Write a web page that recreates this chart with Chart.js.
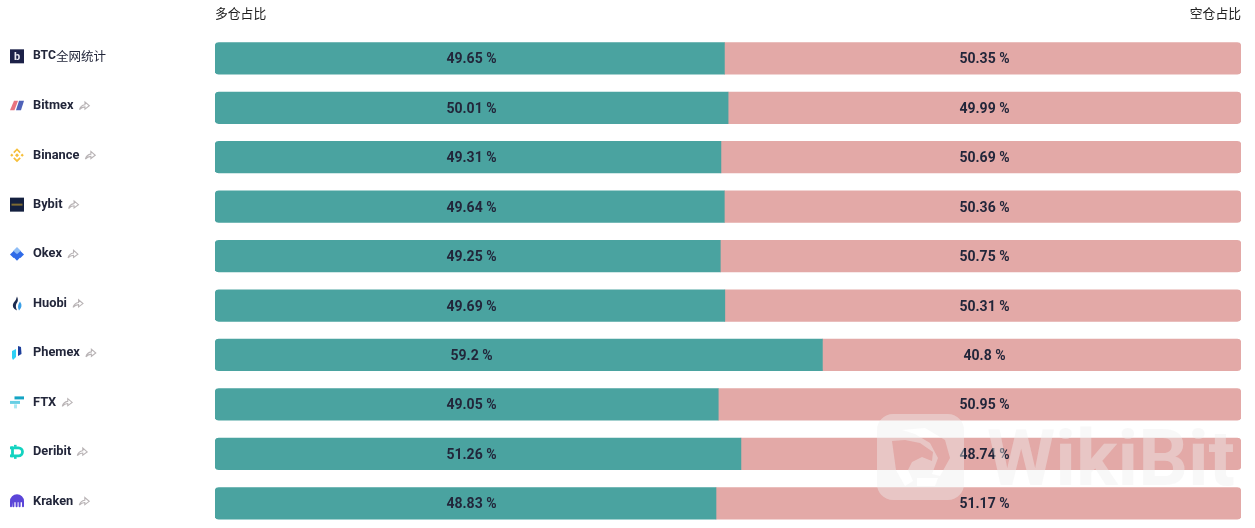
<!DOCTYPE html>
<html>
<head>
<meta charset="utf-8">
<style>
  html, body { margin: 0; padding: 0; background: #fff; overflow: hidden; }
  canvas { display: block; }
</style>
<script src="https://cdn.jsdelivr.net/npm/chart.js@4/dist/chart.umd.min.js"></script>
</head>
<body>
<canvas id="ratio" width="1255" height="528"></canvas>
<script>
const exchanges = ['BTC全网统计', 'Bitmex', 'Binance', 'Bybit', 'Okex', 'Huobi', 'Phemex', 'FTX', 'Deribit', 'Kraken'];
const longRatio = [49.65, 50.01, 49.31, 49.64, 49.25, 49.69, 59.2, 49.05, 51.26, 48.83];
const shortRatio = [50.35, 49.99, 50.69, 50.36, 50.75, 50.31, 40.8, 50.95, 48.74, 51.17];
const longTitle = '多仓占比';
const shortTitle = '空仓占比';

const TEAL = '#4aa3a0';
const PINK = '#e3a9a7';
const INK = '#22263a';
const NAME_FONT = 'bold 12.8px Roboto';
const BTC_FONT = 'bold 12.2px Roboto';
const CJK_FONT = '12.5px "Noto Sans CJK SC"';
const VALUE_FONT = 'bold 14px Roboto';

function poly(c, color, pts) {
  c.fillStyle = color;
  c.beginPath();
  pts.forEach((p, i) => i ? c.lineTo(p[0], p[1]) : c.moveTo(p[0], p[1]));
  c.closePath();
  c.fill();
}
function diamond(c, color, x, y, r) {
  poly(c, color, [[x, y - r], [x + r, y], [x, y + r], [x - r, y]]);
}

// small logos, each one drawn in a 14x14 box
const logos = {
  'BTC全网统计': c => {
    c.fillStyle = '#1c2148';
    c.fillRect(0, 0, 14, 14);
    c.fillStyle = '#e8e8f0';
    c.font = 'bold 11px Roboto';
    c.textAlign = 'center';
    c.textBaseline = 'middle';
    c.fillText('b', 7, 7.5);
  },
  Bitmex: c => {
    poly(c, '#e8737f', [[4, 2], [8, 2], [4.5, 11.5], [0, 11.5]]);
    poly(c, '#4f62b8', [[9, 2], [14, 2], [11, 11.5], [6, 11.5]]);
  },
  Binance: c => {
    const y = '#f6bf3a';
    diamond(c, y, 7, 7, 2);
    diamond(c, y, 1.8, 7, 1.6);
    diamond(c, y, 12.2, 7, 1.6);
    poly(c, y, [[7, 0], [10.8, 3.8], [9.6, 5], [7, 2.4], [4.4, 5], [3.2, 3.8]]);
    poly(c, y, [[7, 14], [10.8, 10.2], [9.6, 9], [7, 11.6], [4.4, 9], [3.2, 10.2]]);
  },
  Bybit: c => {
    c.fillStyle = '#14203f';
    c.fillRect(0, 0, 14, 14);
    c.fillStyle = '#7d6a32';
    c.fillRect(1.5, 6, 11, 2);
  },
  Okex: c => {
    diamond(c, '#8fbdf6', 7, 4, 4);
    diamond(c, '#2f6be8', 3.6, 7.4, 3.6);
    diamond(c, '#2f6be8', 10.4, 7.4, 3.6);
    diamond(c, '#2f6be8', 7, 10, 3.6);
  },
  Huobi: c => {
    c.fillStyle = '#1c2a4f';
    c.beginPath();
    c.moveTo(7, 0);
    c.quadraticCurveTo(9, 4, 6.5, 7);
    c.quadraticCurveTo(5, 10, 7, 14);
    c.quadraticCurveTo(1, 11, 3.5, 6.5);
    c.quadraticCurveTo(6.5, 3, 7, 0);
    c.fill();
    c.fillStyle = '#3aa0e8';
    c.beginPath();
    c.moveTo(10, 5);
    c.quadraticCurveTo(13.5, 10, 9, 14);
    c.quadraticCurveTo(6.5, 10, 10, 5);
    c.fill();
  },
  Phemex: c => {
    poly(c, '#2fd0f5', [[2, 5], [6, 3], [6, 11], [3, 14], [2, 12]]);
    poly(c, '#1d3f9b', [[8, 0], [11, 1], [11.5, 8], [8, 10]]);
  },
  FTX: c => {
    c.fillStyle = '#14a4c4';
    c.fillRect(4.5, 1, 9.5, 3);
    c.fillStyle = '#67cfe4';
    c.fillRect(0, 5.5, 10, 3);
    c.fillStyle = '#aae8f2';
    c.fillRect(4, 9, 3, 4);
  },
  Deribit: c => {
    c.strokeStyle = '#13d3c0';
    c.lineWidth = 2.8;
    c.beginPath();
    c.moveTo(2.5, 3);
    c.lineTo(8.5, 3);
    c.arc(8.5, 7, 4, -Math.PI / 2, Math.PI / 2);
    c.lineTo(2.5, 11);
    c.closePath();
    c.stroke();
    c.fillStyle = '#13d3c0';
    c.fillRect(0, 1.6, 3, 2.8);
    c.fillRect(0, 9.6, 3, 2.8);
    c.fillRect(4, 0, 2.6, 2);
    c.fillRect(4, 12, 2.6, 2);
  },
  Kraken: c => {
    c.fillStyle = '#5b45d8';
    c.beginPath();
    c.moveTo(0, 7);
    c.arc(7, 7, 7, Math.PI, 0);
    c.lineTo(14, 12);
    c.arc(13, 12, 1, 0, Math.PI);
    c.lineTo(12, 8);
    c.lineTo(10.6, 8);
    c.lineTo(10.6, 12);
    c.arc(9.6, 12, 1, 0, Math.PI);
    c.lineTo(8.6, 8);
    c.lineTo(7.6, 8);
    c.lineTo(7.6, 12);
    c.arc(6.6, 12, 1, 0, Math.PI);
    c.lineTo(5.6, 8);
    c.lineTo(4.4, 8);
    c.lineTo(4.4, 12);
    c.arc(3.4, 12, 1, 0, Math.PI);
    c.lineTo(2.4, 8);
    c.lineTo(2, 12);
    c.arc(1, 12, 1, 0, Math.PI);
    c.closePath();
    c.fill();
  }
};

function shareArrow(c, x, y) {
  c.save();
  c.translate(x, y);
  c.scale(1.1, 1.1);
  c.strokeStyle = '#b9b4b6';
  c.lineWidth = 1;
  c.beginPath();
  c.moveTo(0.5, 4);
  c.quadraticCurveTo(1.5, 0, 5.5, -0.5);
  c.lineTo(5.5, -3);
  c.lineTo(9.5, 0.5);
  c.lineTo(5.5, 3.5);
  c.lineTo(5.5, 1.5);
  c.quadraticCurveTo(2.5, 1.5, 0.5, 4);
  c.stroke();
  c.restore();
}

function watermark(c) {
  const wash = 'rgba(238, 238, 238, 0.42)';
  c.fillStyle = wash;
  c.beginPath();
  c.roundRect(877, 414, 87, 86, 16);
  // eagle head, cut out of the frame
  [[892, 441], [905, 440], [920, 443], [933, 452], [932, 461], [922, 457], [912, 462], [908, 470], [913, 481], [905, 486], [896, 470]].forEach((p, i) => i ? c.lineTo(p[0], p[1]) : c.moveTo(p[0], p[1]));
  c.closePath();
  // arc above the head
  [[902, 430], [925, 428], [945, 440], [950, 458], [940, 476], [932, 474], [938, 458], [930, 443], [915, 434]].forEach((p, i) => i ? c.lineTo(p[0], p[1]) : c.moveTo(p[0], p[1]));
  c.closePath();
  // bar under the head
  c.moveTo(917, 478);
  c.lineTo(938, 478);
  c.lineTo(935, 486);
  c.lineTo(917, 486);
  c.closePath();
  c.fill('evenodd');

  c.font = 'bold 78px Roboto';
  c.textAlign = 'left';
  c.textBaseline = 'alphabetic';
  c.fillText('WikiBit', 987, 485);
}

const overlay = {
  id: 'overlay',
  afterDraw(chart) {
    const c = chart.ctx;
    const area = chart.chartArea;
    const x = chart.scales.x;
    const y = chart.scales.y;

    c.save();
    // column headers
    c.fillStyle = '#222';
    c.font = '12.8px "Noto Sans CJK SC"';
    c.textBaseline = 'middle';
    c.textAlign = 'left';
    c.fillText(longTitle, area.left, 13);
    c.textAlign = 'right';
    c.fillText(shortTitle, area.right, 13);

    exchanges.forEach((name, i) => {
      const cy = y.getPixelForValue(i);

      // value labels sit at the middle of each half, whatever the split is
      c.fillStyle = INK;
      c.font = VALUE_FONT;
      c.textAlign = 'center';
      c.textBaseline = 'middle';
      c.fillText(longRatio[i] + ' %', x.getPixelForValue(25), cy + 1.5);
      c.fillText(shortRatio[i] + ' %', x.getPixelForValue(75), cy + 1.5);

      // logo
      c.save();
      c.translate(10, cy - 9);
      logos[name](c);
      c.restore();

      // exchange name, the first row has no arrow and mixes fonts
      c.fillStyle = INK;
      c.textAlign = 'left';
      c.textBaseline = 'middle';
      if (i === 0) {
        c.font = BTC_FONT;
        c.fillText('BTC', 33, cy - 2.5);
        const w = c.measureText('BTC').width;
        c.font = CJK_FONT;
        c.fillText(name.slice(3), 33 + w, cy - 2.5);
      } else {
        c.font = NAME_FONT;
        c.fillText(name, 33, cy - 1.8);
        shareArrow(c, 33 + c.measureText(name).width + 5.5, cy - 2.5);
      }
    });

    watermark(c);
    c.restore();
  }
};

new Chart(document.getElementById('ratio'), {
  type: 'bar',
  data: {
    labels: exchanges,
    datasets: [
      {
        label: longTitle,
        data: longRatio,
        backgroundColor: TEAL,
        borderSkipped: false,
        borderRadius: { topLeft: 4, bottomLeft: 4, topRight: 0, bottomRight: 0 }
      },
      {
        label: shortTitle,
        data: shortRatio,
        backgroundColor: PINK,
        borderSkipped: false,
        borderRadius: { topLeft: 0, bottomLeft: 0, topRight: 4, bottomRight: 4 }
      }
    ]
  },
  options: {
    indexAxis: 'y',
    responsive: false,
    animation: false,
    barThickness: 31.6,
    layout: { padding: { left: 215, right: 14, top: 33.6, bottom: 0 } },
    scales: {
      x: { stacked: true, min: 0, max: 100, display: false },
      y: { stacked: true, display: false }
    },
    plugins: {
      legend: { display: false },
      tooltip: { enabled: false }
    }
  },
  plugins: [overlay]
});
</script>
</body>
</html>
